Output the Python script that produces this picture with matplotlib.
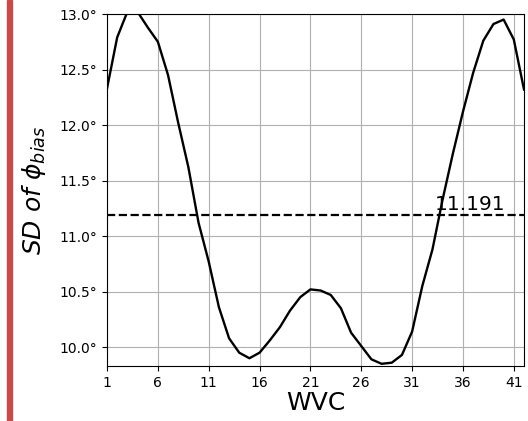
import numpy as np
import matplotlib.pyplot as plt
from matplotlib.patches import Rectangle
from matplotlib.ticker import FuncFormatter

# valores
wvc = np.arange(1, 43)
sd_bias = [12.33, 12.79, 13.02, 13.02, 12.88, 12.75, 12.45, 12.02, 11.62, 11.12,
           10.77, 10.36, 10.08, 9.95, 9.90, 9.95, 10.06, 10.18, 10.33, 10.45,
           10.52, 10.51, 10.47, 10.35, 10.13, 10.01, 9.89, 9.85, 9.86, 9.93,
           10.14, 10.55, 10.88, 11.33, 11.74, 12.12, 12.47, 12.76, 12.91, 12.95,
           12.77, 12.32]
mean_sd = 11.191
xticks = [1, 6, 11, 16, 21, 26, 31, 36, 41]
yticks = [10.0, 10.5, 11.0, 11.5, 12.0, 12.5, 13.0]

fig = plt.figure(figsize=(5.28, 4.21), dpi=100)
ax = fig.add_axes([0.2027, 0.1306, 0.7897, 0.8361])

# barra roja del borde izquierdo
fig.patches.append(Rectangle((7 / 528, 0.0), 4.5 / 528, 1.0, transform=fig.transFigure,
                             color='#c64b4b', zorder=0))

ax.plot(wvc, sd_bias, color='black', linewidth=1.7)
ax.axhline(mean_sd, color='black', linestyle='--', linewidth=1.6)
ax.text(33.2, mean_sd + 0.01, f'{mean_sd}', fontsize=14.5, va='bottom', ha='left')

ax.set_xticks(xticks)
ax.set_yticks(yticks)
ax.yaxis.set_major_formatter(FuncFormatter(lambda v, p: f'{v:.1f}°'))
ax.set_xlim(1, 42)
ax.set_ylim(9.83, 13.0)
ax.grid(True, color='#b0b0b0', linewidth=0.8)
ax.set_xlabel('WVC', fontsize=18, labelpad=1)
ax.set_ylabel(r'$SD\ of\ \phi_{bias}$', fontsize=18, labelpad=8)

fig.savefig('out.png', dpi=100)
